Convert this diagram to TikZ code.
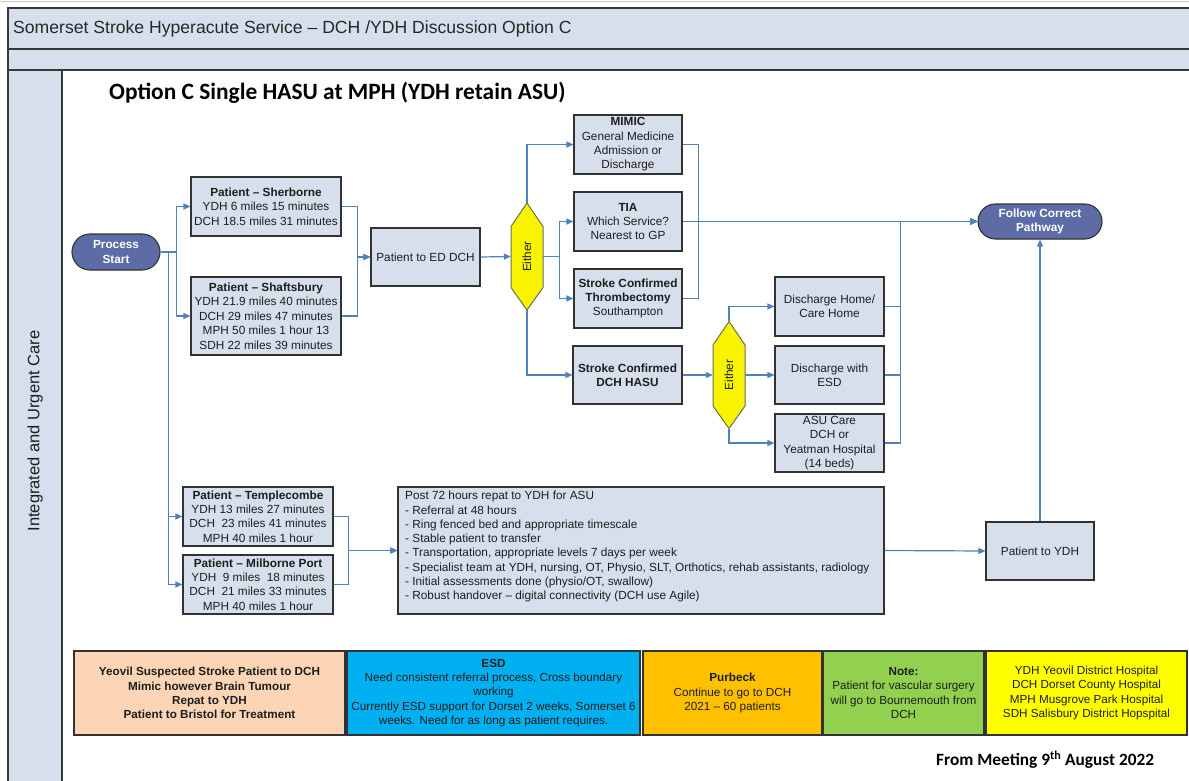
\documentclass[tikz,border=0pt]{standalone}
\usepackage{fontspec}
\setmainfont{Liberation Sans}
\newfontfamily\calibri{Carlito}
\usetikzlibrary{arrows.meta,shapes.misc}

\definecolor{lanefill}{RGB}{214,223,235}
\definecolor{boxfill}{RGB}{214,223,235}
\definecolor{pillfill}{RGB}{93,108,166}
\definecolor{conncol}{RGB}{79,129,189}
\definecolor{framecol}{RGB}{55,55,55}
\definecolor{boxline}{RGB}{50,50,50}
\definecolor{txt}{RGB}{30,30,30}
\definecolor{hdrtext}{RGB}{40,40,40}
\definecolor{hexfill}{RGB}{248,244,0}
\definecolor{hexline}{RGB}{110,110,80}
\definecolor{peach}{RGB}{251,213,181}
\definecolor{esdblue}{RGB}{0,176,240}
\definecolor{orangey}{RGB}{255,192,0}
\definecolor{greeny}{RGB}{146,208,80}
\definecolor{yellowy}{RGB}{255,255,0}

% yellow decision hexagon with a named text node on top
\newcommand\eitherhex[3]{%
  \filldraw[fill=hexfill, draw=hexline, line width=1pt]
    (#2,#3-53.5) -- (#2+16,#3-30) -- (#2+16,#3+31) -- (#2,#3+53.5)
    -- (#2-16,#3+31) -- (#2-16,#3-30) -- cycle;
  \node[hexlabel] (#1) at (#2,#3) {\rotatebox{90}{Either}};
}

\begin{document}
\begin{tikzpicture}[x=1pt,y=-1pt,
  conn/.style={draw=conncol, line width=1.2pt},
  arr/.style={conn, -{Triangle[length=7pt,width=6pt]}},
  flowbox/.style={draw=boxline, fill=boxfill, line width=1.1pt, inner sep=0pt,
    align=center, text=txt, font=\fontsize{11.8}{14.4}\selectfont},
  pill/.style={rounded rectangle, draw=boxline, fill=pillfill, line width=1.1pt,
    inner sep=0pt, align=center, text=white, font=\bfseries\fontsize{11.8}{14.4}\selectfont},
  hexlabel/.style={inner sep=0pt, minimum width=32pt, minimum height=107pt,
    text=txt, font=\fontsize{11.8}{14}\selectfont},
  notebox/.style={draw=boxline, line width=1.3pt, inner sep=0pt, align=center,
    minimum height=84pt, text=txt, font=\fontsize{11.7}{14.3}\selectfont},
]
\useasboundingbox (0,0) rectangle (1189,781);
\fill[white] (0,0) rectangle (1189,781);
\draw[black!20, line width=1pt] (0,1.5) -- (1189,1.5);

% swimlane frame
\fill[lanefill] (8,8) rectangle (1195,70);
\fill[lanefill] (8,70) rectangle (62,790);
\draw[framecol, line width=1.3pt] (1195,8) -- (8,8) -- (8,790);
\draw[framecol, line width=1.3pt] (8,49) -- (1195,49);
\draw[framecol, line width=1.3pt] (8,70) -- (1195,70);
\draw[framecol, line width=1.3pt] (62,70) -- (62,790);

\node[anchor=west, inner sep=0pt, text=hdrtext, font=\fontsize{17.6}{20}\selectfont]
  (hdr) at (13,29) {Somerset Stroke Hyperacute Service – DCH /YDH Discussion Option C};
\node[rotate=90, inner sep=0pt, text=txt, font=\fontsize{16.5}{20}\selectfont]
  (lane) at (35,431) {Integrated and Urgent Care};
\node[anchor=west, inner sep=0pt, font=\calibri\bfseries\fontsize{23.4}{27}\selectfont]
  (title) at (109,93) {Option C Single HASU at MPH (YDH retain ASU)};

% flow nodes
\node[pill, minimum width=88pt, minimum height=36pt] (start) at (116,252) {Process\\Start};
\node[flowbox, minimum width=150pt, minimum height=59pt] (sher) at (266,206.5)
  {\textbf{Patient – Sherborne}\\YDH 6 miles 15 minutes\\DCH 18.5 miles 31 minutes};
\node[flowbox, minimum width=150pt, minimum height=78pt] (shaf) at (266,316)
  {\textbf{Patient – Shaftsbury}\\YDH 21.9 miles 40 minutes\\DCH 29 miles 47 minutes\\MPH 50 miles 1 hour 13\\SDH 22 miles 39 minutes};
\node[flowbox, minimum width=109pt, minimum height=58pt] (ed) at (425.5,257) {Patient to ED DCH};
\eitherhex{eitherA}{527}{256.5}
\node[flowbox, minimum width=108pt, minimum height=59pt] (mimic) at (628,144.5)
  {\textbf{MIMIC}\\General Medicine\\Admission or\\Discharge};
\node[flowbox, minimum width=108pt, minimum height=59pt] (tia) at (628,221.5)
  {\textbf{TIA}\\Which Service?\\Nearest to GP};
\node[flowbox, minimum width=108pt, minimum height=59pt] (thromb) at (628,298.5)
  {\textbf{Stroke Confirmed}\\\textbf{Thrombectomy}\\Southampton};
\node[flowbox, minimum width=109pt, minimum height=58pt] (hasu) at (627.5,375)
  {\textbf{Stroke Confirmed}\\\textbf{DCH HASU}};
\eitherhex{eitherB}{729}{375}
\node[flowbox, minimum width=109pt, minimum height=59pt] (dhome) at (829.5,306.5)
  {Discharge Home/\\Care Home};
\node[flowbox, minimum width=109pt, minimum height=58pt] (desd) at (829.5,375)
  {Discharge with\\ESD};
\node[flowbox, minimum width=109pt, minimum height=58pt] (asu) at (829.5,443)
  {ASU Care\\DCH or\\Yeatman Hospital\\(14 beds)};
\node[pill, minimum width=124pt, minimum height=35pt] (fcp) at (1040,221.5) {Follow Correct\\Pathway};

\node[flowbox, minimum width=150pt, minimum height=59pt] (temple) at (258,516.5)
  {\textbf{Patient – Templecombe}\\YDH 13 miles 27 minutes\\DCH\ \ 23 miles 41 minutes\\MPH 40 miles 1 hour};
\node[flowbox, minimum width=150pt, minimum height=59pt] (milb) at (258,584.5)
  {\textbf{Patient – Milborne Port}\\YDH\ \ 9 miles\ \ 18 minutes\\DCH\ \ 21 miles 33 minutes\\MPH 40 miles 1 hour};
\node[flowbox, minimum width=486pt, minimum height=127pt] (post) at (641,550.5) {};
\node[anchor=north west, inner sep=0pt, align=left, text=txt, font=\fontsize{11.8}{14.3}\selectfont]
  (posttext) at (405,491)
  {Post 72 hours repat to YDH for ASU\\
   - Referral at 48 hours\\
   - Ring fenced bed and appropriate timescale\\
   - Stable patient to transfer\\
   - Transportation, appropriate levels 7 days per week\\
   - Specialist team at YDH, nursing, OT, Physio, SLT, Orthotics, rehab assistants, radiology\\
   - Initial assessments done (physio/OT, swallow)\\
   - Robust handover – digital connectivity (DCH use Agile)};
\node[flowbox, minimum width=108pt, minimum height=58pt] (pydh) at (1040,551) {Patient to YDH};

% connectors
\draw[arr] (start.east) -- ++(16,0) |- (sher.west);
\draw[arr] (start.east) -- ++(16,0) |- (shaf.west);
\draw[arr] (start.east) -- ++(8,0) |- (temple.west);
\draw[arr] (start.east) -- ++(8,0) |- (milb.west);
\draw[arr] (sher.east) -- ++(16,0) |- (ed.west);
\draw[arr] (shaf.east) -- ++(16,0) |- (ed.west);
\draw[arr] (ed.east) -- (eitherA.west);
\draw[arr] (eitherA.north) |- (mimic.west);
\draw[arr] (eitherA.east) -- ++(16,0) |- (tia.west);
\draw[arr] (eitherA.east) -- ++(16,0) |- (thromb.west);
\draw[arr] (eitherA.south) |- (hasu.west);
\draw[arr] (hasu.east) -- (eitherB.west);
\draw[arr] (eitherB.north) |- (dhome.west);
\draw[arr] (eitherB.east) -- (desd.west);
\draw[arr] (eitherB.south) |- (asu.west);
\draw[arr] (mimic.east) -- ++(16,0) |- (fcp.west);
\draw[arr] (thromb.east) -- ++(16,0) |- (fcp.west);
\draw[arr] (tia.east) -- (fcp.west);
\draw[arr] (dhome.east) -- ++(16,0) |- (fcp.west);
\draw[arr] (desd.east) -- ++(16,0) |- (fcp.west);
\draw[arr] (asu.east) -- ++(16,0) |- (fcp.west);
\draw[arr] (temple.east) -- ++(15,0) |- (post.west);
\draw[arr] (milb.east) -- ++(15,0) |- (post.west);
\draw[arr] (post.east) -- (pydh.west);
\draw[arr] (pydh.north) -- (fcp.south);

% notes along the bottom
\node[notebox, fill=peach, minimum width=271pt, font=\bfseries\fontsize{11.7}{14.3}\selectfont] (nyeovil) at (209.5,693)
  {Yeovil Suspected Stroke Patient to DCH\\Mimic however Brain Tumour\\Repat to YDH\\Patient to Bristol for Treatment};
\node[notebox, fill=esdblue, minimum width=293pt] (nesd) at (493.5,693)
  {\textbf{ESD}\\Need consistent referral process, Cross boundary\\working\\Currently ESD support for Dorset 2 weeks, Somerset 6\\weeks. Need for as long as patient requires.};
\node[notebox, fill=orangey, minimum width=179pt] (npurbeck) at (732.5,693)
  {\textbf{Purbeck}\\Continue to go to DCH\\2021 – 60 patients};
\node[notebox, fill=greeny, minimum width=161pt] (nnote) at (903.5,693)
  {\textbf{Note:}\\Patient for vascular surgery\\will go to Bournemouth from\\DCH};
\node[notebox, fill=yellowy, minimum width=201pt] (nkey) at (1086.5,693)
  {YDH Yeovil District Hospital\\DCH Dorset County Hospital\\MPH Musgrove Park Hospital\\SDH Salisbury District Hopspital};

\node[anchor=west, inner sep=0pt, font=\calibri\bfseries\fontsize{17.3}{20}\selectfont]
  (meeting) at (936,760) {From Meeting 9\textsuperscript{th} August 2022};
\end{tikzpicture}
\end{document}
